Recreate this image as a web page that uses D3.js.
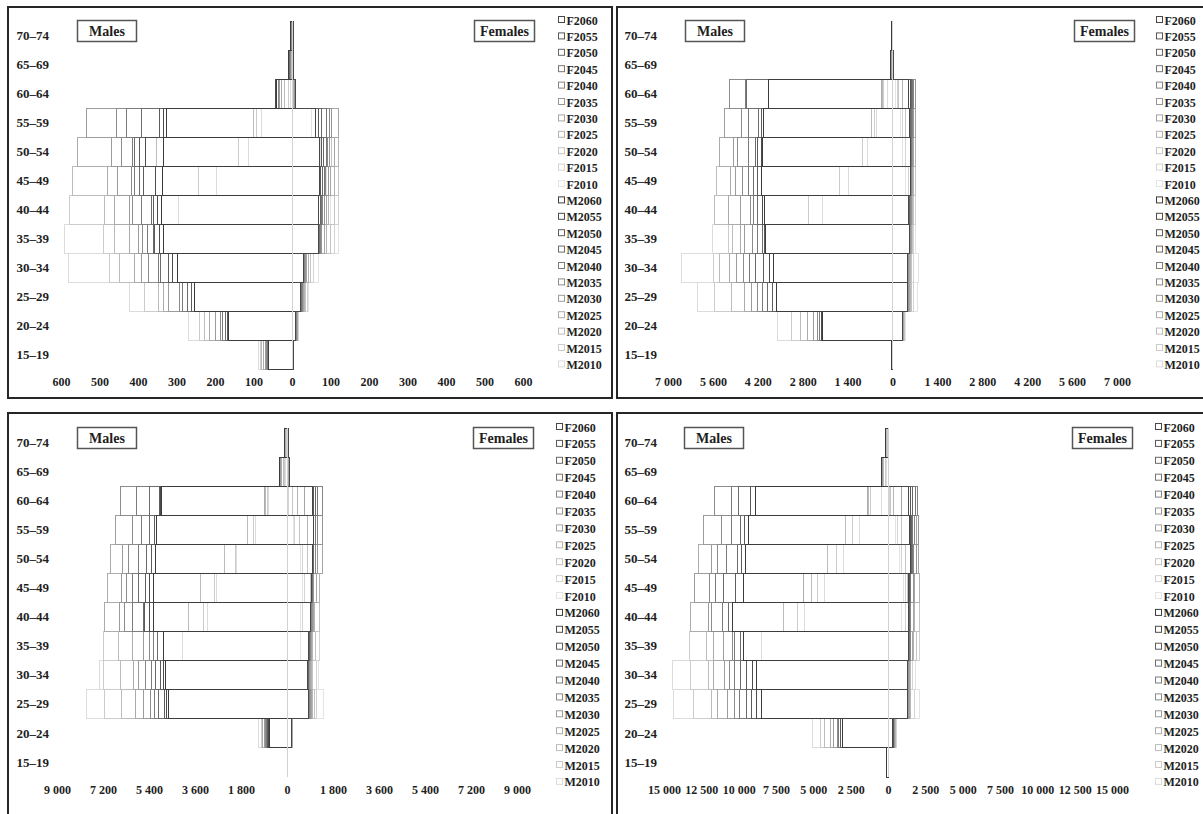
<!DOCTYPE html>
<html>
<head>
<meta charset="utf-8">
<script src="https://cdn.jsdelivr.net/npm/d3@7"></script>
<style>
body { margin: 0; background: #fff; }
svg text { font-family: "Liberation Serif", "Times New Roman", serif; font-weight: bold; fill: #1e1e1e; }
</style>
</head>
<body>
<script>
var ages = ["15–19", "20–24", "25–29", "30–34", "35–39", "40–44", "45–49", "50–54", "55–59", "60–64", "65–69", "70–74"];
var years = [2010, 2015, 2020, 2025, 2030, 2035, 2040, 2045, 2050, 2055, 2060];

// one row per age group (15–19 first), one value per year 2010..2060
var p1Male = [
    [87, 83, 78, 73, 69, 66, 63, 62, 61, 60, 60],
    [270, 239, 228, 215, 200, 187, 180, 174, 168, 165, 165],
    [422, 383, 348, 335, 320, 292, 285, 272, 262, 252, 252],
    [581, 475, 447, 408, 391, 374, 348, 342, 322, 310, 298],
    [592, 490, 461, 422, 398, 388, 375, 360, 356, 345, 334],
    [295, 579, 486, 460, 421, 413, 391, 365, 361, 350, 339],
    [197, 242, 570, 478, 452, 417, 408, 395, 387, 355, 337],
    [112, 140, 351, 556, 468, 444, 413, 408, 397, 380, 335],
    [78, 91, 99, 325, 535, 455, 431, 390, 343, 335, 325],
    [4, 10, 20, 28, 32, 36, 39, 42, 44, 44, 40],
    [0, 1, 2, 3, 4, 5, 6, 7, 8, 8, 8],
    [0, 0, 1, 1, 2, 2, 3, 4, 5, 5, 5]
];
var p1Female = [
    [5, 5, 5, 4, 4, 4, 4, 4, 4, 4, 4],
    [16, 16, 15, 14, 13, 12, 12, 10, 9, 8, 8],
    [42, 40, 36, 33, 30, 27, 26, 24, 23, 22, 22],
    [68, 55, 47, 42, 38, 35, 33, 31, 30, 29, 29],
    [122, 110, 99, 90, 84, 77, 74, 72, 70, 68, 68],
    [100, 122, 110, 94, 90, 85, 80, 77, 73, 70, 68],
    [90, 100, 122, 110, 100, 94, 88, 85, 79, 75, 72],
    [75, 90, 103, 120, 110, 97, 92, 90, 81, 76, 72],
    [51, 62, 77, 97, 120, 103, 97, 90, 77, 70, 62],
    [2, 3, 4, 5, 6, 7, 8, 8, 8, 8, 8],
    [0, 1, 1, 2, 2, 3, 3, 4, 4, 4, 4],
    [0, 0, 0, 1, 1, 1, 2, 2, 3, 3, 3]
];
var p2Male = [
    [30, 30, 28, 26, 25, 24, 22, 20, 20, 18, 18],
    [3580, 3150, 2870, 2650, 2460, 2340, 2280, 2210, 2200, 2200, 2190],
    [6070, 5540, 5020, 4610, 4400, 4200, 4050, 3890, 3750, 3610, 3610],
    [6570, 5580, 5390, 5080, 4850, 4640, 4450, 4270, 4020, 3850, 3710],
    [5600, 5110, 5000, 4740, 4600, 4360, 4200, 4050, 4000, 3960, 3960],
    [2180, 2620, 5540, 5110, 4740, 4420, 4330, 4200, 4050, 4050, 4000],
    [1370, 1650, 5480, 5050, 4890, 4670, 4500, 4330, 4200, 4080, 4080],
    [780, 935, 4050, 5390, 4950, 4830, 4500, 4270, 4200, 4100, 4050],
    [500, 560, 650, 4020, 5230, 4700, 4500, 4170, 4100, 4020, 4020],
    [150, 280, 310, 330, 3860, 5078, 4580, 4560, 3880, 3870, 3860],
    [10, 20, 30, 40, 45, 50, 50, 50, 50, 50, 50],
    [0, 5, 10, 15, 20, 25, 30, 30, 30, 30, 30]
];
var p2Female = [
    [10, 10, 10, 8, 8, 8, 8, 8, 8, 8, 8],
    [400, 380, 360, 340, 330, 320, 315, 310, 310, 310, 310],
    [780, 650, 600, 560, 530, 500, 480, 470, 470, 470, 470],
    [810, 650, 600, 560, 530, 500, 480, 470, 470, 470, 470],
    [715, 650, 620, 600, 580, 560, 540, 530, 530, 530, 530],
    [500, 715, 650, 620, 600, 580, 560, 540, 520, 510, 500],
    [400, 500, 715, 650, 620, 600, 580, 560, 560, 560, 560],
    [300, 400, 560, 715, 650, 620, 600, 580, 560, 560, 560],
    [250, 300, 400, 530, 715, 650, 620, 600, 560, 540, 530],
    [93, 150, 200, 300, 500, 715, 650, 620, 600, 560, 500],
    [0, 5, 10, 15, 20, 20, 25, 25, 25, 25, 25],
    [0, 0, 5, 5, 10, 10, 10, 10, 10, 10, 10]
];
var p3Male = [
    [0, 0, 0, 0, 0, 0, 0, 0, 0, 0, 0],
    [1130, 980, 960, 940, 900, 850, 800, 780, 750, 720, 700],
    [7860, 7160, 6460, 5910, 5600, 5360, 5200, 5010, 4800, 4700, 4620],
    [7320, 7200, 6530, 6020, 5800, 5520, 5300, 5160, 4950, 4850, 4770],
    [4070, 7200, 6610, 6060, 5630, 5400, 5240, 5050, 4850, 4850, 4850],
    [3130, 3250, 3870, 7160, 6570, 6340, 6060, 5630, 5560, 5400, 5240],
    [2740, 2820, 3400, 7040, 6460, 6300, 6030, 5800, 5520, 5400, 5240],
    [1960, 2030, 2460, 6890, 6420, 6220, 5800, 5480, 5300, 5160, 5160],
    [1250, 1330, 1530, 5090, 6730, 6060, 5700, 5400, 5200, 5090, 5090],
    [740, 780, 860, 900, 4930, 6530, 5870, 5400, 5000, 4950, 4930],
    [50, 100, 150, 200, 250, 280, 300, 310, 310, 310, 310],
    [0, 20, 40, 60, 80, 100, 100, 100, 100, 100, 100]
];
var p3Female = [
    [0, 0, 0, 0, 0, 0, 0, 0, 0, 0, 0],
    [220, 220, 210, 200, 200, 190, 190, 180, 180, 180, 180],
    [1410, 1170, 1080, 980, 940, 900, 880, 860, 860, 860, 860],
    [1250, 1170, 980, 940, 900, 880, 860, 840, 830, 820, 820],
    [510, 1290, 1100, 980, 950, 920, 900, 880, 870, 860, 850],
    [510, 600, 1280, 1080, 1020, 980, 950, 920, 900, 900, 900],
    [590, 700, 900, 1280, 1150, 1020, 1000, 980, 960, 950, 940],
    [510, 600, 800, 1020, 1370, 1210, 1100, 1050, 1020, 1000, 1000],
    [250, 310, 500, 800, 1020, 1370, 1210, 1100, 1050, 1020, 1020],
    [0, 50, 200, 400, 700, 980, 1370, 1210, 1100, 1020, 980],
    [0, 10, 20, 40, 60, 80, 80, 80, 80, 80, 80],
    [0, 0, 0, 10, 20, 30, 40, 40, 40, 40, 40]
];
var p4Male = [
    [100, 100, 90, 90, 80, 80, 80, 80, 80, 80, 80],
    [5050, 4490, 4230, 3850, 3670, 3410, 3300, 3200, 3150, 3080, 3080],
    [14360, 13000, 11790, 11410, 10770, 10300, 9920, 9500, 9150, 8800, 8460],
    [14440, 13200, 12050, 11670, 10950, 10600, 10260, 9900, 9490, 9100, 8800],
    [8460, 13260, 12130, 11670, 11000, 10380, 10260, 9900, 9670, 9670, 9670],
    [5590, 6030, 7000, 13200, 12050, 11800, 11100, 10700, 10380, 10380, 10380],
    [4280, 4690, 5130, 5640, 12950, 11920, 11540, 11030, 10180, 9670, 9670],
    [2950, 3460, 4030, 12690, 11790, 11410, 10800, 10080, 9800, 9540, 9540],
    [1920, 2380, 2820, 9360, 12380, 11150, 10500, 9870, 9600, 9360, 9360],
    [440, 1150, 1280, 1400, 8850, 11615, 10510, 10000, 9200, 8900, 8850],
    [100, 200, 300, 350, 400, 440, 440, 440, 440, 440, 440],
    [0, 50, 100, 150, 200, 200, 200, 200, 200, 200, 200]
];
var p4Female = [
    [0, 0, 0, 0, 0, 0, 0, 0, 0, 0, 0],
    [590, 540, 500, 470, 440, 410, 380, 360, 350, 340, 330],
    [2130, 1790, 1540, 1480, 1410, 1350, 1300, 1280, 1280, 1280, 1280],
    [1870, 1670, 1540, 1480, 1410, 1350, 1300, 1280, 1280, 1280, 1280],
    [1360, 2130, 1920, 1720, 1650, 1540, 1480, 1420, 1400, 1380, 1360],
    [900, 1150, 2130, 1790, 1700, 1540, 1500, 1450, 1420, 1400, 1400],
    [1030, 1150, 1300, 2130, 1790, 1700, 1540, 1500, 1450, 1420, 1400],
    [770, 900, 1200, 1540, 2050, 1920, 1720, 1650, 1600, 1540, 1540],
    [510, 640, 900, 1460, 1920, 2050, 1800, 1620, 1550, 1500, 1460],
    [0, 100, 180, 400, 900, 1360, 1970, 1870, 1670, 1500, 1360],
    [0, 10, 20, 30, 40, 50, 60, 60, 60, 60, 60],
    [0, 0, 0, 10, 20, 30, 40, 40, 40, 40, 40]
];

var p1Max = 600, p1Step = 100;
var p2Max = 7000, p2Step = 1400;
var p3Max = 9000, p3Step = 1800;
var p4Max = 15000, p4Step = 2500;

// layout of the four frames (positions only)
var panels = [
    { male: p1Male, female: p1Female, max: p1Max, step: p1Step,
      box: [8, 7, 604, 391], x: [61, 523], y: [21, 369], ageX: 49,
      mBox: 77, fBox: 474, boxY: 20, legX: 558, legY: 20, legStep: 16.4, axisY: 383 },
    { male: p2Male, female: p2Female, max: p2Max, step: p2Step,
      box: [617, 7, 620, 391], x: [668, 1117], y: [21, 369], ageX: 657,
      mBox: 685, fBox: 1074, boxY: 20, legX: 1156, legY: 20, legStep: 16.4, axisY: 383 },
    { male: p3Male, female: p3Female, max: p3Max, step: p3Step,
      box: [8, 413, 604, 440], x: [57, 517], y: [428, 777], ageX: 49,
      mBox: 77, fBox: 473, boxY: 427, legX: 556, legY: 427, legStep: 16.9, axisY: 791 },
    { male: p4Male, female: p4Female, max: p4Max, step: p4Step,
      box: [617, 413, 620, 440], x: [664, 1112], y: [428, 777], ageX: 657,
      mBox: 684, fBox: 1072, boxY: 427, legX: 1155, legY: 427, legStep: 16.9, axisY: 791 }
];

var maleColor = d3.interpolateRgb("#dcdcdc", "#3c3c3c");
var femaleColor = d3.interpolateRgb("#e4e4e4", "#484848");

var fmt = d3.formatLocale({ decimal: ".", thousands: " ", grouping: [3], currency: ["", ""] }).format(",d");

var svg = d3.select("body").append("svg")
    .attr("width", 1203)
    .attr("height", 814);

function drawPanel(p) {
    var g = svg.append("g");

    g.append("rect")
        .attr("x", p.box[0]).attr("y", p.box[1])
        .attr("width", p.box[2]).attr("height", p.box[3])
        .attr("fill", "#fff").attr("stroke", "#262626").attr("stroke-width", 2);

    var xScale = d3.scaleLinear().domain([-p.max, p.max]).range(p.x);
    var yScale = d3.scaleBand().domain(ages.slice().reverse()).range(p.y).padding(0);
    var ticks = d3.range(-p.max, p.max + 1, p.step);

    // bars: males first then females, earliest year first so darker ones sit on top
    var rows = [];
    [["M", p.male], ["F", p.female]].forEach(function(s) {
        years.forEach(function(yr, i) {
            ages.forEach(function(a, r) {
                var v = s[1][r][i];
                if (v > 0) rows.push({ sex: s[0], year: i, age: a, value: v });
            });
        });
    });

    g.selectAll("rect.bar")
        .data(rows)
        .enter()
        .append("rect")
        .attr("class", "bar")
        .attr("x", function(d) { return d.sex === "M" ? xScale(-d.value) : xScale(0); })
        .attr("width", function(d) {
            return d.sex === "M" ? xScale(0) - xScale(-d.value) : xScale(d.value) - xScale(0);
        })
        .attr("y", function(d) { return yScale(d.age); })
        .attr("height", yScale.bandwidth())
        .attr("fill", "none")
        .attr("shape-rendering", "crispEdges")
        .attr("stroke", function(d) {
            return d.sex === "M" ? maleColor(d.year / 10) : femaleColor(d.year / 10);
        })
        .attr("stroke-width", 1);

    // light zero line over the bars
    g.append("line")
        .attr("x1", xScale(0)).attr("x2", xScale(0))
        .attr("y1", p.y[0]).attr("y2", p.y[1])
        .attr("shape-rendering", "crispEdges")
        .attr("stroke", "#d2d2d2");

    // x axis
    var xAxis = d3.axisBottom(xScale)
        .tickValues(ticks)
        .tickSize(0)
        .tickPadding(0)
        .tickFormat(function(d) { return fmt(Math.abs(d)); });
    var ax = g.append("g")
        .attr("transform", "translate(0," + (p.axisY - 6) + ")")
        .call(xAxis);
    ax.select(".domain").remove();
    ax.selectAll("text").attr("font-size", 12).attr("dy", "0.71em")
        .style("font-family", "'Liberation Serif', 'Times New Roman', serif")
        .style("font-weight", "bold").attr("fill", "#1e1e1e");

    // age labels
    var yAxis = d3.axisLeft(yScale).tickSize(0).tickPadding(0);
    var ay = g.append("g")
        .attr("transform", "translate(" + p.ageX + ",0)")
        .call(yAxis);
    ay.select(".domain").remove();
    ay.selectAll("text").attr("font-size", 13)
        .style("font-family", "'Liberation Serif', 'Times New Roman', serif")
        .style("font-weight", "bold").attr("fill", "#1e1e1e");

    // Males / Females boxes
    [["Males", p.mBox, 59], ["Females", p.fBox, 60]].forEach(function(b) {
        g.append("rect")
            .attr("x", b[1] + 0.5).attr("y", p.boxY + 0.5)
            .attr("width", b[2]).attr("height", 21)
            .attr("fill", "#fff").attr("stroke", "#555").attr("stroke-width", 1.5);
        g.append("text")
            .attr("x", b[1] + b[2] / 2 + 0.5).attr("y", p.boxY + 15.5)
            .attr("text-anchor", "middle")
            .attr("font-size", 14)
            .text(b[0]);
    });

    // legend
    var legend = [];
    years.slice().reverse().forEach(function(yr, k) {
        legend.push({ label: "F" + yr, color: femaleColor((10 - k) / 10) });
    });
    years.slice().reverse().forEach(function(yr, k) {
        legend.push({ label: "M" + yr, color: maleColor((10 - k) / 10) });
    });
    var items = g.selectAll("g.leg")
        .data(legend)
        .enter()
        .append("g")
        .attr("transform", function(d, i) {
            return "translate(" + p.legX + "," + (p.legY + i * p.legStep) + ")";
        });
    items.append("rect")
        .attr("x", 0.5).attr("y", -3.5)
        .attr("width", 6).attr("height", 6)
        .attr("fill", "#fff")
        .attr("stroke", function(d) { return d.color; });
    items.append("text")
        .attr("x", 8.5).attr("y", 4.5)
        .attr("font-size", 12)
        .text(function(d) { return d.label; });
}

panels.forEach(drawPanel);
</script>
</body>
</html>
